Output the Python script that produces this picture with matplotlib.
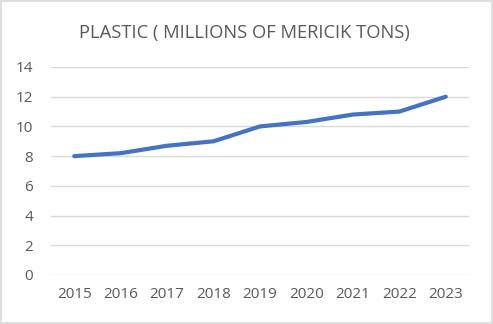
import matplotlib.pyplot as plt
from matplotlib.patches import Rectangle

years = ['2015', '2016', '2017', '2018', '2019', '2020', '2021', '2022', '2023']
plastic = [8, 8.2, 8.7, 9, 10, 10.3, 10.8, 11, 12]

plt.rcParams['font.family'] = ['Open Sans', 'DejaVu Sans']
txt = '#595959'

fig = plt.figure(figsize=(4.93, 3.24), dpi=100)
ax = fig.add_axes([51 / 493, 49 / 324, 418 / 493, 208 / 324])

ax.plot(range(len(years)), plastic, color='#4472C4', linewidth=3,
        solid_capstyle='round', solid_joinstyle='round', zorder=3)

ax.set_xlim(-0.5, len(years) - 0.5)
ax.set_ylim(0, 14)
ax.set_yticks(range(0, 15, 2))
ax.set_xticks(range(len(years)))
ax.set_xticklabels(years)
ax.grid(axis='y', color='#D9D9D9', linewidth=1)
ax.set_axisbelow(True)
for s in ax.spines.values():
    s.set_visible(False)
ax.tick_params(length=0, labelsize=11, colors=txt)
ax.tick_params(axis='x', pad=9)
ax.tick_params(axis='y', pad=13)

fig.text(0.496, 1 - 33 / 324, 'PLASTIC ( MILLIONS OF MERICIK TONS)',
         ha='center', va='center', fontsize=13.2, color=txt)

# chart border
fig.patches.append(Rectangle((0.002, 0.003), 0.995, 0.994, transform=fig.transFigure,
                             fill=False, edgecolor='#D9D9D9', linewidth=1.2))

fig.savefig('out.png', dpi=100)
